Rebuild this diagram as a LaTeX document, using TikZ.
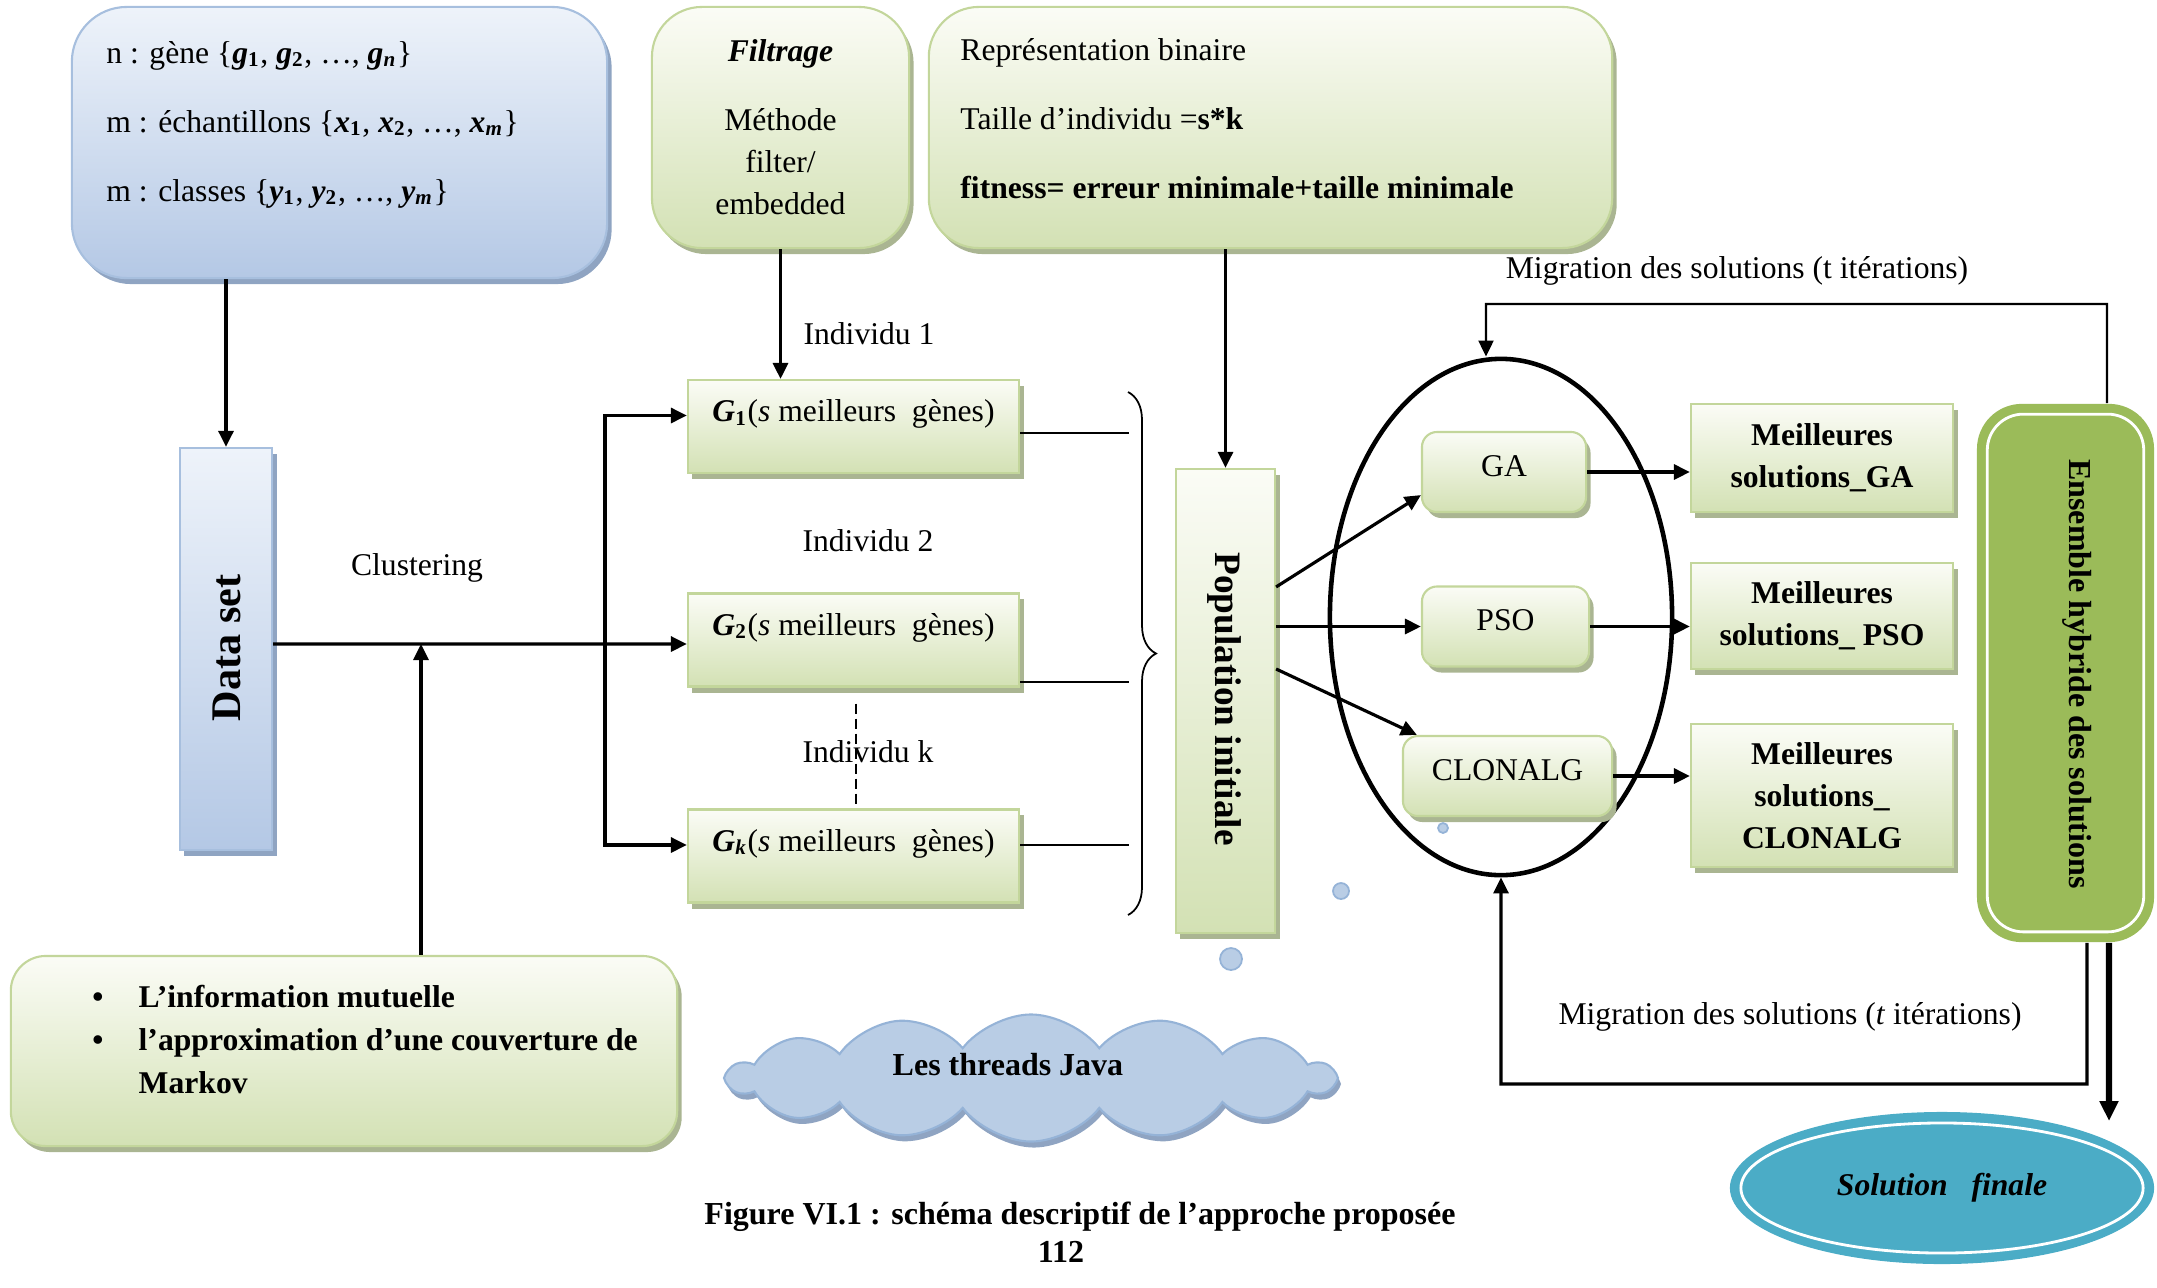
\documentclass[tikz,border=0pt]{standalone}
\usepackage{fontspec}
\setmainfont{Liberation Serif}
\usetikzlibrary{shapes.geometric,shapes.symbols,shadows,arrows.meta,decorations.pathreplacing,calc}
\definecolor{gborder}{HTML}{C3D69B}
\definecolor{gtop}{HTML}{FBFCF6}
\definecolor{gbot}{HTML}{D3E1B4}
\definecolor{gshadow}{HTML}{AAB592}
\definecolor{bborder}{HTML}{A7BFDE}
\definecolor{btop}{HTML}{EEF3FA}
\definecolor{bbot}{HTML}{B4C8E5}
\definecolor{bshadow}{HTML}{8FA4C2}
\definecolor{ensgreen}{HTML}{9BBB59}
\definecolor{solblue}{HTML}{4BACC6}
\definecolor{cloudfill}{HTML}{B9CDE5}
\definecolor{cloudline}{HTML}{95B3D7}
\newcommand\bvar[2]{\textbf{\textit{#1}}\textsubscript{\textbf{#2}}}
\begin{document}
\begin{tikzpicture}[x=0.01cm, y=-0.01cm, font=\fontsize{9}{11}\selectfont,
  gbox/.style={draw=gborder, line width=0.6pt, top color=gtop, bottom color=gbot,
    drop shadow={shadow xshift=0.45mm, shadow yshift=-0.6mm, fill=gshadow, opacity=1}, inner sep=0pt},
  bbox/.style={draw=bborder, line width=0.6pt, top color=btop, bottom color=bbot,
    drop shadow={shadow xshift=0.45mm, shadow yshift=-0.6mm, fill=bshadow, opacity=1}, inner sep=0pt},
  gsq/.style={gbox, minimum width=3.31cm, minimum height=0.93cm, text height=0.3cm, text depth=0.4cm},
  algo/.style={gbox, rounded corners=0.15cm, minimum height=0.8cm, text depth=0.12cm},
  best/.style={gbox, align=center, font=\fontsize{9}{11.9}\selectfont\bfseries, minimum width=2.62cm},
  arr/.style={line width=0.9pt, -{Triangle[length=1.6mm,width=1.5mm]}},
  thinline/.style={line width=0.5pt},
  bubble/.style={circle, fill=cloudfill, draw=cloudline, line width=0.5pt, inner sep=0pt}
]
\useasboundingbox (0,0) rectangle (2157,1287);

% top boxes
\node[bbox, rounded corners=0.55cm, minimum width=5.35cm, minimum height=2.71cm] (info) at (339.5,142.5) {};
\node[anchor=west, align=left, font=\fontsize{9}{19.6}\selectfont] (infotxt) at (94,124.5)
  {n : gène \{\bvar{g}{1}, \bvar{g}{2}, \dots, \bvar{g}{\textit{n}}\}\\
   m : échantillons \{\bvar{x}{1}, \bvar{x}{2}, \dots, \bvar{x}{\textit{m}}\}\\
   m : classes \{\bvar{y}{1}, \bvar{y}{2}, \dots, \bvar{y}{\textit{m}}\}};

\node[gbox, rounded corners=0.5cm, minimum width=2.57cm, minimum height=2.41cm, align=center,
  font=\fontsize{9}{12}\selectfont] (filt) at (780.5,127.5)
  {\textbf{\textit{Filtrage}}\\[7.6pt] Méthode\\ filter/\\ embedded};

\node[gbox, rounded corners=0.5cm, minimum width=6.83cm, minimum height=2.41cm] (repr) at (1270.5,127.5) {};
\node[anchor=west, align=left, font=\fontsize{9}{19.6}\selectfont] (reprtxt) at (948,119)
  {Représentation binaire\\ Taille d'individu =\textbf{s*k}\\ \textbf{fitness= erreur minimale+taille minimale}};

% data set
\node[bbox, minimum width=0.92cm, minimum height=4.02cm] (data) at (226,649) {};
\node[rotate=90, font=\fontsize{12}{14}\selectfont\bfseries] (datatxt) at (227,648) {Data set};

% G boxes
\node[gsq] (G1) at (853.5,426.5) {\bvar{G}{1}(\textit{s} meilleurs\ \ gènes)};
\node[gsq] (G2) at (853.5,640) {\bvar{G}{2}(\textit{s} meilleurs\ \ gènes)};
\node[gsq] (Gk) at (853.5,856) {\bvar{G}{\textit{k}}(\textit{s} meilleurs\ \ gènes)};
\node (ind1) at (869,334) {Individu 1};
\node (ind2) at (868,541) {Individu 2};
\node (indk) at (868,752) {Individu k};
\node (clus) at (417,568) {Clustering};

% population
\node[gbox, minimum width=0.99cm, minimum height=4.64cm] (pop) at (1225.5,701) {};
\node[rotate=-90, font=\fontsize{10.6}{12}\selectfont\bfseries] (poptxt) at (1224,699) {Population initiale};

% ellipse and algorithms
\node[ellipse, draw, line width=1.3pt, minimum width=3.42cm, minimum height=5.16cm, inner sep=0pt] (ell) at (1501,617) {};
\node[algo, minimum width=1.64cm] (GA) at (1504,472) {GA};
\node[algo, minimum width=1.67cm] (PSO) at (1505.5,626.5) {PSO};
\node[algo, minimum width=2.09cm] (CLON) at (1507.5,776) {CLONALG};

% best solutions
\node[best, minimum height=1.08cm] (MGA) at (1822,458) {Meilleures\\ solutions\_GA};
\node[best, minimum height=1.06cm] (MPSO) at (1822,616) {Meilleures\\ solutions\_ PSO};
\node[best, minimum height=1.43cm] (MCL) at (1822,795.5) {Meilleures\\ solutions\_\\ CLONALG};

% ensemble
\node[fill=ensgreen, rounded corners=0.45cm, minimum width=1.77cm, minimum height=5.38cm, inner sep=0pt] (ens) at (2065.5,673) {};
\draw[white, line width=0.8pt, rounded corners=0.36cm] ([shift={(0.11cm,-0.11cm)}]ens.north west) rectangle ([shift={(-0.11cm,0.11cm)}]ens.south east);
\node[rotate=-90, font=\fontsize{9.1}{11}\selectfont\bfseries] (enstxt) at (2077,674) {Ensemble hybride des solutions};

% solution finale
\node[ellipse, fill=solblue, minimum width=4.24cm, minimum height=1.52cm, inner sep=0pt,
  font=\fontsize{9}{11}\selectfont\bfseries\itshape] (sol) at (1942,1188) {Solution\ \ \ finale};
\draw[white, line width=0.8pt] (sol.center) ellipse [x radius=2.01cm, y radius=0.65cm];

% bottom left box
\node[gbox, rounded corners=0.35cm, minimum width=6.66cm, minimum height=1.9cm] (mi) at (344,1051) {};
\node[anchor=west, font=\fontsize{9}{12.2}\selectfont\bfseries] (mitxt) at (80,1042)
  {\begin{tabular}{@{}l@{\hspace{10pt}}l@{}}
   \textbullet & L'information mutuelle\\
   \textbullet & l'approximation d'une couverture de\\
   & Markov
   \end{tabular}};

% cloud
\node[cloud, cloud puffs=14, cloud puff arc=105, aspect=4.8, fill=cloudfill, draw=cloudline, line width=0.6pt,
  minimum width=6.05cm, minimum height=1.27cm, inner sep=0pt,
  drop shadow={shadow xshift=0.3mm, shadow yshift=-0.6mm, fill=bshadow, opacity=1}] (cloud) at (1031,1078) {};
\node[font=\fontsize{9.1}{11}\selectfont\bfseries] (cloudtxt) at (1008,1065) {Les threads Java};
\node[bubble, minimum size=0.22cm] (bub1) at (1231,959) {};
\node[bubble, minimum size=0.16cm] (bub2) at (1341,891) {};
\node[bubble, minimum size=0.1cm] (bub3) at (1443,828) {};

% labels
\node (migtop) at (1737,271) {Migration des solutions (t itérations)};
\node (migbot) at (1790,1017) {Migration des solutions (\textit{t} itérations)};
\node[font=\fontsize{9.1}{11}\selectfont\bfseries] (cap) at (1080,1217) {Figure VI.1 : schéma descriptif de l'approche proposée};
\node[font=\fontsize{9.1}{11}\selectfont\bfseries] (page) at (1061,1252) {112};

% connectors
\draw[arr] (data.north |- info.south) -- (data.north);
\draw[arr] (filt.south) -- (filt.south |- G1.north);
\draw[arr] (pop.north |- repr.south) -- (pop.north);
\draw[arr] (data.east |- 0,644) -- ([yshift=-0.04cm]G2.west);
\coordinate (br) at (605,644);
\draw[arr] (br) |- ([yshift=0.11cm]G1.west);
\draw[arr] (br) |- ([yshift=0.11cm]Gk.west);
\coordinate (cl) at (421,644);
\draw[arr] (cl |- mi.north) -- (cl);
\draw[dashed, line width=0.5pt, dash pattern=on 1mm off 0.5mm] ([xshift=0.025cm, yshift=-0.16cm]G2.south) -- ([xshift=0.025cm]Gk.north);

\draw[thinline] ([yshift=-0.065cm]G1.east) -- ++(109,0);
\draw[thinline] ([yshift=-0.42cm]G2.east) -- ++(109,0);
\draw[thinline] ([yshift=0.11cm]Gk.east) -- ++(109,0);
\coordinate (bt) at (1128,392);
\coordinate (bb) at (1128,915);
\draw[thinline, decorate, decoration={brace, amplitude=0.28cm}] (bt) -- (bb);

\draw[arr] ([yshift=1.14cm]pop.east) -- ([yshift=0.18cm]GA.south west);
\draw[arr] (pop.east |- PSO.west) -- (PSO.west);
\draw[arr] ([yshift=0.32cm]pop.east) -- ([xshift=0.15cm]CLON.north west);
\draw[arr] (GA.east) -- (GA.east -| MGA.west);
\draw[arr] (PSO.east) -- (PSO.east -| MPSO.west);
\draw[arr] (CLON.east) -- (CLON.east -| MCL.west);

\coordinate (mtop) at (2107,304);
\draw[line width=0.6pt, -{Triangle[length=1.6mm,width=1.5mm]}] ([xshift=0.415cm]ens.north) -- (mtop) -| ([xshift=-0.15cm]ell.north);
\coordinate (mbot) at (2087,1084);
\draw[arr] ([xshift=0.215cm]ens.south) -- (mbot) -| (ell.south);
\coordinate (fin) at (2109,1121);
\draw[line width=1.8pt, -{Triangle[length=2mm,width=1.8mm]}] ([xshift=0.435cm]ens.south) -- (fin);
\end{tikzpicture}
\end{document}
